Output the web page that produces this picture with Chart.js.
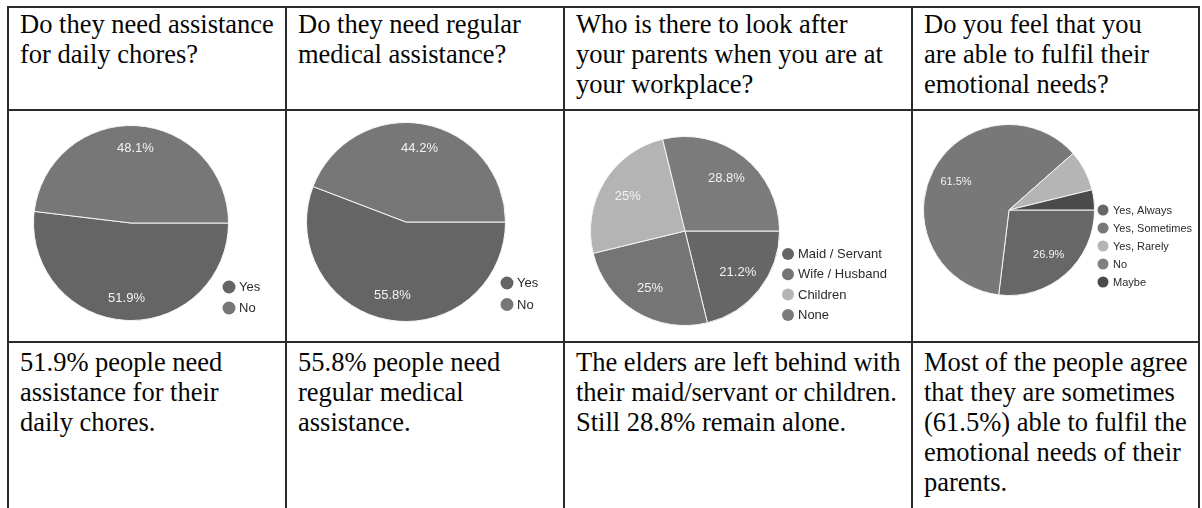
<!DOCTYPE html>
<html>
<head>
<meta charset="utf-8">
<script src="https://cdn.jsdelivr.net/npm/chart.js@4.4.1/dist/chart.umd.min.js"></script>
<style>
  html, body { margin: 0; padding: 0; background: #fff; }
  #sheet { position: relative; width: 1202px; height: 508px; overflow: hidden; }
  .cell { position: absolute; box-sizing: border-box; border-left: 2px solid #2b2b2b; border-top: 2px solid #2b2b2b; }
  .cell.last { border-right: 2px solid #2b2b2b; }
  .txt { font-family: "Liberation Serif", "Times New Roman", serif; font-size: 26.5px; line-height: 30px;
         color: #050505; padding-left: 11px; white-space: nowrap; }
  .cell canvas { position: absolute; left: 0; top: 0; }
</style>
</head>
<body>
<div id="sheet"></div>
<script>
// texte du tableau
const questions = [
  ['Do they need assistance', 'for daily chores?'],
  ['Do they need regular', 'medical assistance?'],
  ['Who is there to look after', 'your parents when you are at', 'your workplace?'],
  ['Do you feel that you', 'are able to fulfil their', 'emotional needs?']
];
const notes = [
  ['51.9% people need', 'assistance for their', 'daily chores.'],
  ['55.8% people need', 'regular medical', 'assistance.'],
  ['The elders are left behind with', 'their maid/servant or children.', 'Still 28.8% remain alone.'],
  ['Most of the people agree', 'that they are sometimes', '(61.5%) able to fulfil the', 'emotional needs of their', 'parents.']
];

// données des camemberts (en %)
const dailyLabels = ['Yes', 'No'];
const dailyValues = [51.9, 48.1];

const medicalLabels = ['Yes', 'No'];
const medicalValues = [55.8, 44.2];

const careLabels = ['Maid / Servant', 'Wife / Husband', 'Children', 'None'];
const careValues = [21.2, 25, 25, 28.8];

const emotionLabels = ['Yes, Always', 'Yes, Sometimes', 'Yes, Rarely', 'No', 'Maybe'];
const emotionValues = [26.9, 61.5, 7.7, 0, 3.8];

// grille du tableau
const colX = [7, 285, 563, 911, 1198];
const rowY = [6, 109, 341, 560];

const sheet = document.getElementById('sheet');

function makeCell(c, r) {
  const d = document.createElement('div');
  d.className = 'cell' + (c === 3 ? ' last' : '');
  d.style.left = colX[c] + 'px';
  d.style.top = rowY[r] + 'px';
  d.style.width = (colX[c + 1] - colX[c] + (c === 3 ? 2 : 0)) + 'px';
  d.style.height = (rowY[r + 1] - rowY[r]) + 'px';
  sheet.appendChild(d);
  return d;
}

function fillText(cell, lines, top) {
  const t = document.createElement('div');
  t.className = 'txt';
  t.style.paddingTop = top + 'px';
  t.innerHTML = lines.join('<br>');
  cell.appendChild(t);
}

// étiquettes % + légende dessinées sur le canvas
const pieText = {
  id: 'pieText',
  afterDatasetsDraw(chart, args, opts) {
    const ctx = chart.ctx;
    const ds = chart.data.datasets[0];
    const meta = chart.getDatasetMeta(0);
    ctx.save();
    ctx.textBaseline = 'middle';
    ctx.textAlign = 'center';
    ctx.fillStyle = '#f2f2f2';
    ctx.font = opts.size + 'px "Liberation Sans", Arial, sans-serif';
    meta.data.forEach((arc, i) => {
      if (ds.data[i] < 10) return;
      const p = arc.getProps(['x', 'y', 'startAngle', 'endAngle', 'outerRadius'], true);
      const mid = (p.startAngle + p.endAngle) / 2;
      const d = p.outerRadius * opts.at;
      ctx.fillText(ds.data[i] + '%', p.x + Math.cos(mid) * d, p.y + Math.sin(mid) * d);
    });

    const lg = opts.legend;
    ctx.textAlign = 'left';
    ctx.font = lg.size + 'px "Liberation Sans", Arial, sans-serif';
    chart.data.labels.forEach((lab, i) => {
      const y = lg.y + i * lg.step;
      ctx.fillStyle = ds.backgroundColor[i];
      ctx.beginPath();
      ctx.arc(lg.x, y, lg.r, 0, Math.PI * 2);
      ctx.fill();
      ctx.fillStyle = '#2a2a2a';
      ctx.fillText(lab, lg.x + 10, y + 0.5);
    });
    ctx.restore();
  }
};

function makePie(cell, w, labels, values, colors, pad, textOpts) {
  const canvas = document.createElement('canvas');
  canvas.width = w;
  canvas.height = 230;
  cell.appendChild(canvas);
  return new Chart(canvas.getContext('2d'), {
    type: 'pie',
    data: {
      labels: labels,
      datasets: [{
        data: values,
        backgroundColor: colors,
        borderColor: '#f4f4f4',
        borderWidth: 1
      }]
    },
    options: {
      responsive: false,
      animation: false,
      events: [],
      rotation: 90,
      layout: { padding: pad },
      plugins: {
        legend: { display: false },
        tooltip: { enabled: false },
        pieText: textOpts
      }
    },
    plugins: [pieText]
  });
}

for (let c = 0; c < 4; c++) {
  fillText(makeCell(c, 0), questions[c], 1);
}
const pieCells = [0, 1, 2, 3].map(c => makeCell(c, 1));
for (let c = 0; c < 4; c++) {
  fillText(makeCell(c, 2), notes[c], 4);
}

makePie(pieCells[0], 276, dailyLabels, dailyValues, ['#656565', '#777777'],
  { left: 24, top: 14, right: 56, bottom: 20 },
  { size: 13, at: 0.77, legend: { x: 220, y: 176, step: 21, r: 6.5, size: 13 } });

makePie(pieCells[1], 276, medicalLabels, medicalValues, ['#656565', '#777777'],
  { left: 19, top: 11, right: 57, bottom: 19 },
  { size: 13, at: 0.75, legend: { x: 220, y: 172, step: 21.5, r: 6.5, size: 13 } });

makePie(pieCells[2], 346, careLabels, careValues, ['#666666', '#757575', '#b4b4b4', '#7b7b7b'],
  { left: 25, top: 25, right: 131, bottom: 15 },
  { size: 13, at: 0.71, legend: { x: 223, y: 143, step: 20.3, r: 6, size: 13 } });

makePie(pieCells[3], 285, emotionLabels, emotionValues, ['#676767', '#787878', '#b5b5b5', '#808080', '#4a4a4a'],
  { left: 10, top: 13, right: 103, bottom: 45 },
  { size: 11, at: 0.70, legend: { x: 190, y: 99, step: 18, r: 5.5, size: 11 } });
</script>
</body>
</html>
